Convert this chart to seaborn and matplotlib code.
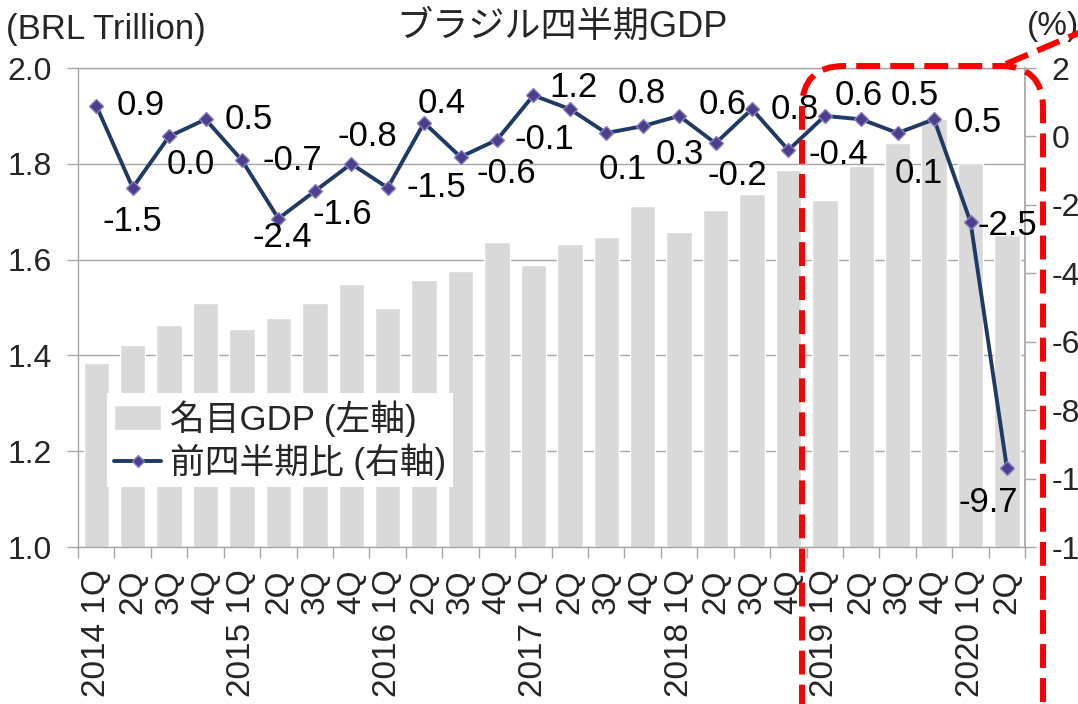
import numpy as np
import pandas as pd
import matplotlib
matplotlib.use("Agg")
import matplotlib.pyplot as plt
import seaborn as sns
from matplotlib.patches import FancyBboxPatch, Patch
from matplotlib.lines import Line2D

# Données
quarters = ["2014Q1", "2014Q2", "2014Q3", "2014Q4",
            "2015Q1", "2015Q2", "2015Q3", "2015Q4",
            "2016Q1", "2016Q2", "2016Q3", "2016Q4",
            "2017Q1", "2017Q2", "2017Q3", "2017Q4",
            "2018Q1", "2018Q2", "2018Q3", "2018Q4",
            "2019Q1", "2019Q2", "2019Q3", "2019Q4",
            "2020Q1", "2020Q2"]
tick_labels = ["2014 1Q", "2Q", "3Q", "4Q",
               "2015 1Q", "2Q", "3Q", "4Q",
               "2016 1Q", "2Q", "3Q", "4Q",
               "2017 1Q", "2Q", "3Q", "4Q",
               "2018 1Q", "2Q", "3Q", "4Q",
               "2019 1Q", "2Q", "3Q", "4Q",
               "2020 1Q", "2Q"]
gdp_nominal = [1.384, 1.422, 1.463, 1.509, 1.455, 1.478, 1.509, 1.549,
               1.499, 1.557, 1.576, 1.637, 1.589, 1.633, 1.647, 1.712,
               1.658, 1.704, 1.737, 1.787, 1.725, 1.795, 1.844, 1.893,
               1.802, 1.652]
qoq_growth = [0.9, -1.5, 0.0, 0.5, -0.7, -2.4, -1.6, -0.8,
              -1.5, 0.4, -0.6, -0.1, 1.2, 0.8, 0.1, 0.3,
              0.6, -0.2, 0.8, -0.4, 0.6, 0.5, 0.1, 0.5,
              -2.5, -9.7]

# décalage des étiquettes (pixels, x droite / y bas)
label_offsets = [(44, 0), (0, 34), (22, 28), (43, 0), (50, 0), (4, 19),
                 (27, 23), (16, -27), (49, 0), (18, -19), (46, 17), (47, 0),
                 (40, -8), (72, -16), (16, 36), (37, 28), (44, -11), (22, 32),
                 (43, 0), (50, 4), (34, -20), (53, -24), (21, 40), (44, 3),
                 (37, 4), (-19, 34)]

df = pd.DataFrame({"quarter": quarters, "gdp": gdp_nominal, "qoq": qoq_growth})

sns.set_theme(style="white")
plt.rcParams["font.family"] = ["Liberation Sans", "Noto Sans CJK JP"]
plt.rcParams["axes.unicode_minus"] = False

grey = "#A6A6A6"
navy = "#1F3A64"
bar_color = "#D9D9D9"

fig = plt.figure(figsize=(10.78, 7.04), dpi=100)
ax = fig.add_axes([0.0724, 0.223, 0.8786, 0.6804])

sns.barplot(data=df, x="quarter", y="gdp", color=bar_color, saturation=1,
            width=0.7, ax=ax)
ax.set_ylim(1.0, 2.0)
ax.set_xlim(-0.5, len(quarters) - 0.5)
ax.set_yticks(np.arange(1.0, 2.01, 0.2))
ax.set_yticklabels([f"{v:.1f}" for v in np.arange(1.0, 2.01, 0.2)])
ax.yaxis.grid(True, color=grey, linewidth=1)
ax.set_axisbelow(True)
ax.set_xlabel("")
ax.set_ylabel("")

ax.set_xticks(np.arange(len(quarters)))
ax.set_xticklabels(tick_labels, rotation=90)
ax.set_xticks(np.arange(-0.5, len(quarters), 1), minor=True)
ax.tick_params(axis="x", which="major", length=0, pad=16, labelsize=24)
ax.tick_params(axis="x", which="minor", bottom=True, length=8, width=1, color=grey)
ax.tick_params(axis="y", left=True, length=8, width=1, color=grey, pad=11, labelsize=23)
for s in ax.spines.values():
    s.set_color(grey)
    s.set_linewidth(1)
ax.spines["right"].set_visible(False)

# Axe droit : croissance trimestrielle
ax2 = ax.twinx()
x_pos = np.arange(len(quarters))
sns.lineplot(x=x_pos, y=qoq_growth, ax=ax2, color=navy, linewidth=2.8,
             marker="D", markersize=7.5, markerfacecolor="#4B3F8C",
             markeredgecolor="#8A7CC4", markeredgewidth=1, legend=False)
ax2.set_ylim(-12, 2)
ax2.set_yticks(np.arange(-12, 3, 2))
ax2.tick_params(axis="y", right=True, length=8, width=1, color=grey, pad=11, labelsize=23)
for name, s in ax2.spines.items():
    s.set_visible(name == "right")
    s.set_color(grey)
ax2.set_xlim(-0.5, len(quarters) - 0.5)

for i, (v, (dx, dy)) in enumerate(zip(qoq_growth, label_offsets)):
    ax2.annotate(f"{v:.1f}", (i, v), xytext=(dx, -dy), textcoords="offset pixels",
                 ha="center", va="center", fontsize=25, color="black")

handles = [Patch(facecolor=bar_color, label="名目GDP (左軸)"),
           Line2D([], [], color=navy, lw=2.8, marker="D", markersize=6,
                  markerfacecolor="#4B3F8C", markeredgecolor="#8A7CC4",
                  label="前四半期比 (右軸)")]
leg = ax2.legend(handles=handles, loc="upper left", bbox_to_anchor=(0.031, 0.3215),
                 bbox_transform=ax.transAxes, frameon=True, fancybox=False,
                 edgecolor="none", facecolor="white", framealpha=1, fontsize=25,
                 handlelength=1.35, handletextpad=0.25, borderpad=0.2,
                 labelspacing=0.2, borderaxespad=0)
leg.set_zorder(10)

# Titres
fig.text(562 / 1078, 1 - 27 / 704, "ブラジル四半期GDP", ha="center", va="center", fontsize=26)
fig.text(6 / 1078, 1 - 30 / 704, "(BRL Trillion)", ha="left", va="center", fontsize=25)
fig.text(1027 / 1078, 1 - 27 / 704, "(%)", ha="left", va="center", fontsize=24)

# Encadré rouge
box = FancyBboxPatch((8.02, -0.4), 10.43 - 8.02, 6.38 + 0.4,
                     boxstyle="round,pad=0,rounding_size=0.42",
                     transform=fig.dpi_scale_trans, fill=False, edgecolor="red",
                     linewidth=4.3, linestyle=(0, (4, 1.7)), clip_on=False, zorder=20)
fig.add_artist(box)
fig.add_artist(Line2D([10.06, 10.95], [6.40, 6.78], transform=fig.dpi_scale_trans,
                      color="red", linewidth=4.3, linestyle=(0, (4, 1.7)), zorder=20))

fig.savefig("out.png", dpi=100)
